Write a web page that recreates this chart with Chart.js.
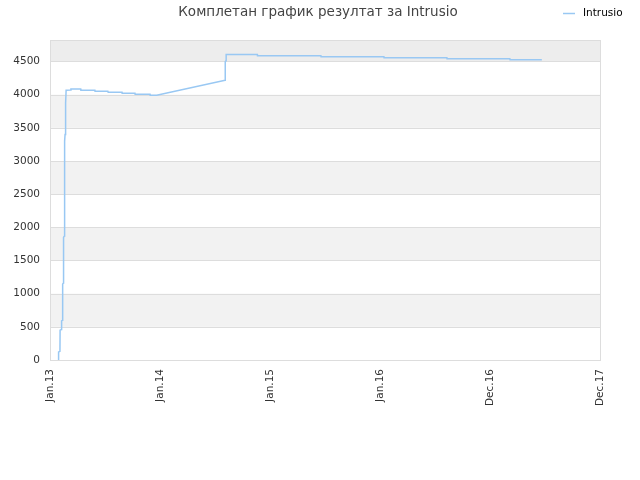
<!DOCTYPE html>
<html><head><meta charset="utf-8">
<script src="https://cdn.jsdelivr.net/npm/chart.js@4"></script>
<style>html,body{margin:0;padding:0;background:#fff}#w{width:640px;height:480px}</style>
</head><body><div id="w"><canvas id="c"></canvas></div>
<script>
const titleText = 'Комплетан график резултат за Intrusio';
const seriesName = 'Intrusio';
const xTickDays = [0, 365, 730, 1095, 1460, 1825];
const xTickLabels = ['Jan.13', 'Jan.14', 'Jan.15', 'Jan.16', 'Dec.16', 'Dec.17'];
const yTicks = [0, 500, 1000, 1500, 2000, 2500, 3000, 3500, 4000, 4500];
const days = [28,28.5,33,33.5,38,38.5,41.5,42,44.8,45,48,48.5,50,50.5,53,53.5,69,69.5,102,102.5,149,149.5,192,193,239,239.5,282,282.5,332,332.5,354,581,581.5,584,584.5,688,688.5,899,899.5,1108,1108.5,1317,1317.5,1526,1526.5,1632];
const values = [0,120,130,450,460,590,600,1145,1160,1850,1870,3300,3400,3855,3870,4066,4071,4086,4086,4066,4066,4051,4051,4036,4036,4021,4021,4006,4006,3991,3991,4217,4500,4510,4605,4605,4585,4585,4570,4570,4555,4555,4540,4540,4525,4525];
const yMax = 4824;

const FONT = 'DejaVu Sans';
const bands = {
  id: 'bands',
  beforeDatasetsDraw(chart) {
    const {ctx, chartArea: a, scales: {y}} = chart;
    ctx.save();
    for (let i = 0; i < yTicks.length; i++) {
      const lo = yTicks[i];
      const hi = i + 1 < yTicks.length ? yTicks[i + 1] : yMax;
      if (i % 2 === 1 || i === yTicks.length - 1) {
        ctx.fillStyle = (i === yTicks.length - 1) ? '#ededed' : '#f2f2f2';
        const t = y.getPixelForValue(hi), b = y.getPixelForValue(lo);
        ctx.fillRect(a.left, t, a.right - a.left, b - t);
      }
    }
    ctx.strokeStyle = '#dddddd'; ctx.lineWidth = 1;
    for (const v of yTicks) {
      const p = Math.round(y.getPixelForValue(v)) + 0.5;
      ctx.beginPath(); ctx.moveTo(a.left, p); ctx.lineTo(a.right, p); ctx.stroke();
    }
    ctx.strokeRect(Math.round(a.left) + 0.5, Math.round(a.top) + 0.5, Math.round(a.right - a.left), Math.round(a.bottom - a.top));
    ctx.restore();
  },
  afterDraw(chart) {
    const ctx = chart.ctx;
    ctx.save();
    ctx.fillStyle = '#444';
    ctx.font = '13.5px ' + FONT;
    ctx.textAlign = 'center'; ctx.textBaseline = 'middle';
    ctx.fillText(titleText, 318, 12);
    ctx.strokeStyle = '#99c8f3'; ctx.lineWidth = 1.5;
    ctx.beginPath(); ctx.moveTo(563, 13.5); ctx.lineTo(575, 13.5); ctx.stroke();
    ctx.fillStyle = '#000';
    ctx.font = '10.5px ' + FONT;
    ctx.textAlign = 'left';
    ctx.fillText(seriesName, 583, 13);
    ctx.restore();
  }
};

new Chart(document.getElementById('c'), {
  type: 'line',
  data: { datasets: [{
    label: seriesName,
    data: days.map((d, i) => ({x: d, y: values[i]})),
    borderColor: '#99c8f3', borderWidth: 1.5, pointRadius: 0, tension: 0, fill: false
  }]},
  options: {
    responsive: true, maintainAspectRatio: false, animation: false,
    layout: { padding: { top: 40, right: 40, left: 0, bottom: 0 } },
    plugins: { legend: { display: false }, title: { display: false }, tooltip: { enabled: false } },
    scales: {
      x: {
        type: 'linear', min: 0, max: 1825,
        afterBuildTicks: s => { s.ticks = xTickDays.map(v => ({value: v})); },
        afterFit: s => { s.height = 120; },
        grid: { display: false, drawTicks: false },
        border: { display: false },
        ticks: {
          autoSkip: false, maxRotation: 90, minRotation: 90, padding: 9,
          color: '#333', font: { family: FONT, size: 10.5 },
          callback: (v) => { const i = xTickDays.indexOf(v); return i >= 0 ? xTickLabels[i] : ''; }
        }
      },
      y: {
        min: 0, max: yMax,
        afterBuildTicks: s => { s.ticks = yTicks.map(v => ({value: v})); },
        afterFit: s => { s.width = 50; },
        grid: { display: false, drawTicks: false },
        border: { display: false },
        ticks: { padding: 10, color: '#333', font: { family: FONT, size: 10.5 }, callback: v => String(v) }
      }
    }
  },
  plugins: [bands]
});
</script>
</body></html>
